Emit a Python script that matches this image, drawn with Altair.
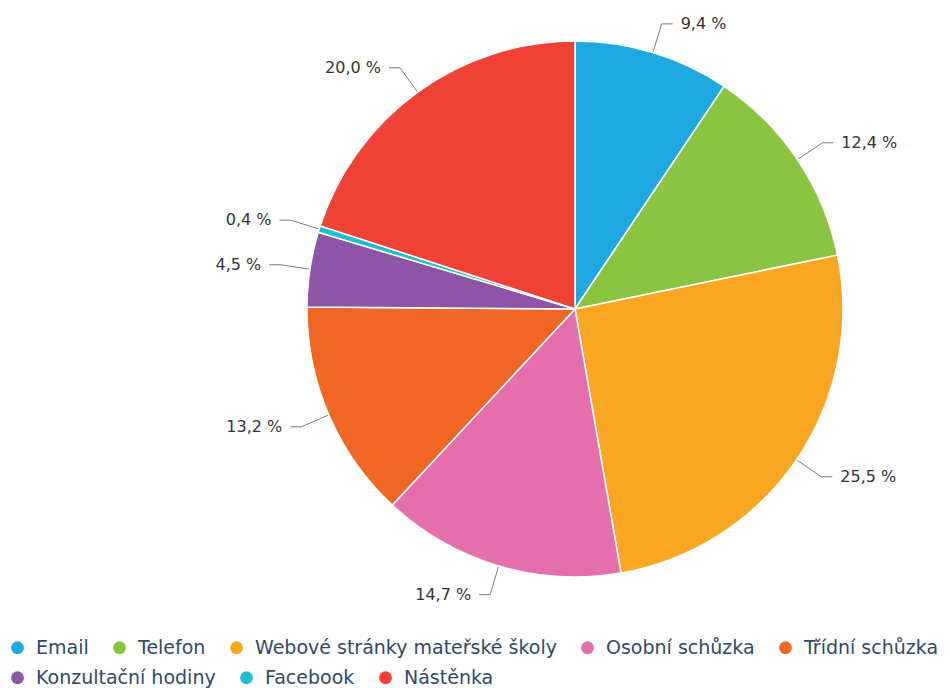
import altair as alt
import pandas as pd

categories = ["Email", "Telefon", "Webové stránky mateřské školy", "Osobní schůzka",
              "Třídní schůzka", "Konzultační hodiny", "Facebook", "Nástěnka"]
values = [9.4, 12.4, 25.5, 14.7, 13.2, 4.5, 0.4, 20.0]
colors = ["#1ea8e0", "#8bc443", "#f9a623", "#e56fad", "#f06624", "#8d55a5", "#1ebfcb", "#ef4136"]
row1 = categories[:5]
row2 = categories[5:]

df = pd.DataFrame({"cat": categories, "value": values, "idx": list(range(len(values))),
                   "row": [1] * 5 + [2] * 3})

CX, CY, R = 575, 309, 268


def legend_for(y):
    return alt.Legend(
        title=None, orient="none", legendX=8, legendY=y,
        direction="horizontal",
        symbolType="circle", symbolSize=165, symbolStrokeWidth=0, symbolOpacity=1,
        labelFontSize=19, labelColor="#2f4a6a", labelFont="DejaVu Sans",
        labelLimit=400, columnPadding=21, labelOffset=9,
    )


pie = alt.Chart(df).mark_arc(stroke="white", strokeWidth=1.5, radius=R).encode(
    theta=alt.Theta("value:Q", stack=True),
    color=alt.Color("cat:N", scale=alt.Scale(domain=categories, range=colors), legend=None),
    order=alt.Order("idx:Q"),
    x=alt.value(CX),
    y=alt.value(CY),
)

leg1 = alt.Chart(df).transform_filter("datum.row == 1").mark_point(
    size=0, opacity=0, filled=True
).encode(
    x=alt.value(-50), y=alt.value(-50),
    color=alt.Color("cat:N", scale=alt.Scale(domain=row1, range=colors[:5]),
                    sort=row1, legend=legend_for(638)),
)
leg2 = alt.Chart(df).transform_filter("datum.row == 2").mark_point(
    size=0, opacity=0, filled=True
).encode(
    x=alt.value(-50), y=alt.value(-50),
    color=alt.Color("cat:N", scale=alt.Scale(domain=row2, range=colors[5:]),
                    sort=row2, legend=legend_for(668)),
)

geo = alt.Chart(df).transform_joinaggregate(
    total="sum(value)"
).transform_window(
    cum="sum(value)", sort=[alt.SortField("idx")], frame=[None, 0]
).transform_calculate(
    mid="(datum.cum - datum.value/2) / datum.total * 2 * PI",
).transform_calculate(
    sa="sin(datum.mid)", ca="cos(datum.mid)",
).transform_calculate(
    ex=f"{CX} + {R + 1} * datum.sa",
    ey=f"{CY} - {R + 1} * datum.ca",
    lx=f"{CX} + {R + 30} * datum.sa",
    ly=f"{CY} - {R + 30} * datum.ca",
    side="datum.sa >= 0 ? 1 : -1",
    label="replace(format(datum.value, '.1f'), '.', ',') + ' %'",
).transform_calculate(
    hx="datum.lx + datum.side * 11",
    tx="datum.lx + datum.side * 19",
)

rule1 = geo.mark_rule(color="#7a7a7a", strokeWidth=1).encode(
    x=alt.X("ex:Q", scale=None, axis=None),
    y=alt.Y("ey:Q", scale=None, axis=None),
    x2="lx:Q",
    y2="ly:Q",
)
rule2 = geo.mark_rule(color="#7a7a7a", strokeWidth=1).encode(
    x=alt.X("lx:Q", scale=None, axis=None),
    y=alt.Y("ly:Q", scale=None, axis=None),
    x2="hx:Q",
)
textR = geo.transform_filter("datum.side > 0").mark_text(
    align="left", baseline="middle", fontSize=16, font="DejaVu Sans", color="#333333"
).encode(
    x=alt.X("tx:Q", scale=None, axis=None),
    y=alt.Y("ly:Q", scale=None, axis=None),
    text="label:N",
)
textL = geo.transform_filter("datum.side < 0").mark_text(
    align="right", baseline="middle", fontSize=16, font="DejaVu Sans", color="#333333"
).encode(
    x=alt.X("tx:Q", scale=None, axis=None),
    y=alt.Y("ly:Q", scale=None, axis=None),
    text="label:N",
)

chart = alt.layer(pie, leg1, leg2, rule1, rule2, textR, textL).resolve_scale(
    color="independent"
).properties(
    width=950, height=688, padding=0, autosize="none"
).configure_view(stroke=None)

chart.save("out.html", embed_options={"renderer": "svg", "actions": False})
